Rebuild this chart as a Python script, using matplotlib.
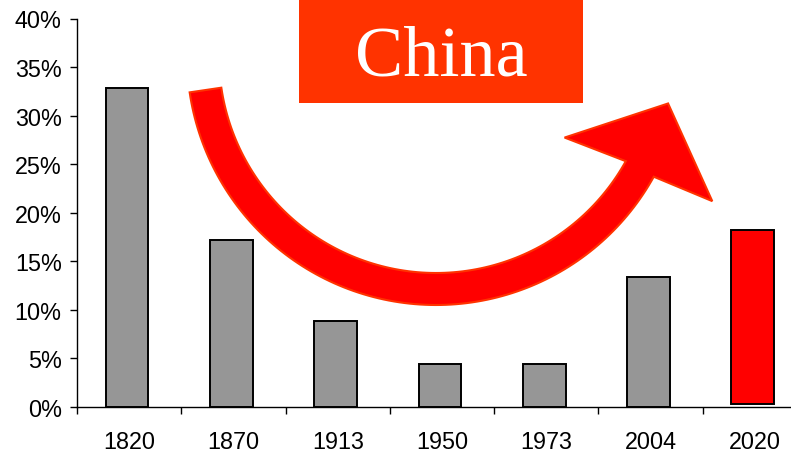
import numpy as np
import matplotlib
matplotlib.use("Agg")
import matplotlib.pyplot as plt
from matplotlib.patches import Rectangle, Polygon
from matplotlib.ticker import FuncFormatter
from matplotlib.transforms import Affine2D

plt.rcParams['font.family'] = ['Liberation Sans', 'DejaVu Sans']

years = ['1820', '1870', '1913', '1950', '1973', '2004', '2020']
share = [32.85, 17.2, 8.86, 4.43, 4.43, 13.4, 18.2]   # % of world GDP
bar_colors = ['#969696'] * 6 + ['#ff0000']
bar_bottoms = [0, 0, 0, 0, 0, 0, 0.3]

W, H = 791, 456
fig = plt.figure(figsize=(W / 100, H / 100), dpi=100)
ax = fig.add_axes([77 / W, 48 / H, 730 / W, 388.5 / H])

x = np.arange(len(years))
heights = [v - b for v, b in zip(share, bar_bottoms)]
ax.bar(x - 0.02, heights, bottom=bar_bottoms, width=0.41, color=bar_colors,
       edgecolor='black', linewidth=1.4, zorder=2)

ax.set_xlim(-0.5, len(years) - 0.5)
ax.set_ylim(0, 40)
ax.set_yticks(np.arange(0, 41, 5))
ax.yaxis.set_major_formatter(FuncFormatter(lambda v, p: '%d%%' % v))
ax.set_xticks(x)
ax.set_xticklabels(years)
ax.set_xticks(np.arange(-0.5, len(years)), minor=True)
ax.tick_params(axis='x', which='major', length=0, pad=16.5, labelsize=16.8)
ax.tick_params(axis='x', which='minor', length=5, width=1, direction='out')
ax.tick_params(axis='y', length=5, width=1, pad=6, labelsize=16.8, direction='out')
for s in ['top', 'right']:
    ax.spines[s].set_visible(False)
for s in ['left', 'bottom']:
    ax.spines[s].set_linewidth(1)

# pixel coordinates (y down) -> figure
px = Affine2D().scale(1 / 100, -1 / 100).translate(0, H / 100) + fig.dpi_scale_trans

# "China" banner
fig.patches.append(Rectangle((299, -5), 284, 109, transform=px,
                             facecolor='#ff3300', edgecolor='none', zorder=5))
fig.text(441, 76, 'China', transform=px, ha='center', va='baseline',
         color='white', fontsize=52, family=['Liberation Serif'], zorder=6)

# curved arrow
cx, cy, r, hw = 436, 57, 233, 16
t0, t1 = np.radians(188.4), np.radians(331)
t = np.linspace(t0, t1, 120)
outer = np.c_[cx + (r + hw) * np.cos(t), cy - (r + hw) * np.sin(t)]
inner = np.c_[cx + (r - hw) * np.cos(t), cy - (r - hw) * np.sin(t)][::-1]
ex, ey = cx + r * np.cos(t1), cy - r * np.sin(t1)
rad = np.array([np.cos(t1), -np.sin(t1)])
tan = np.array([-np.sin(t1), -np.cos(t1)])
base = np.array([ex, ey])
head = [base + 79 * rad + 7 * tan,
        base - 7 * rad + 71 * tan,
        base - 81 * rad - 9 * tan]
pts = np.vstack([outer, head, inner])
fig.patches.append(Polygon(pts, closed=True, transform=px, facecolor='#ff0000',
                           edgecolor='#ff3300', linewidth=1.5, zorder=4))

fig.savefig('out.png', dpi=100)
